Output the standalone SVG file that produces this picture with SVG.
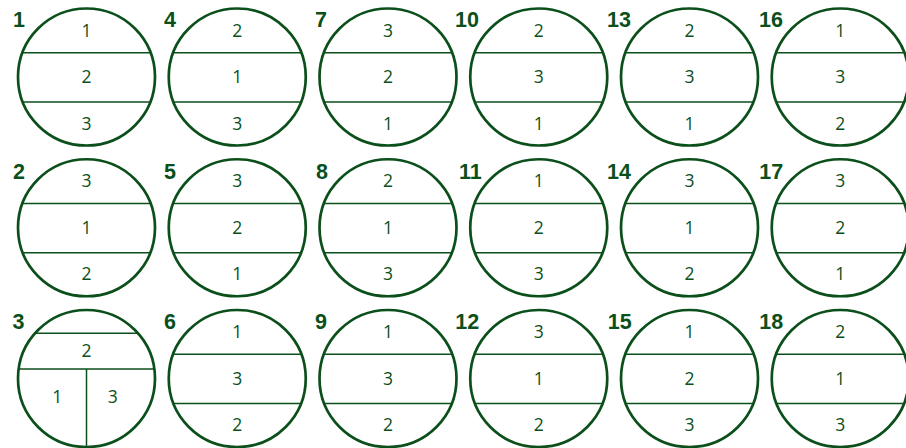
<svg xmlns="http://www.w3.org/2000/svg" width="906" height="448" viewBox="0 0 906 448">
<style>
.c{fill:none;stroke:#0b4f1b;stroke-width:2.7}
.l{stroke:#0b4f1b;stroke-width:1.5}
.t{font-family:"Open Sans","Noto Sans",sans-serif;font-weight:400;font-size:17.5px;fill:#0b4f1b;text-anchor:middle}
.n{font-family:"Liberation Sans",Arial,sans-serif;font-weight:bold;font-size:21.5px;fill:#0b4f1b;text-anchor:end}
</style>
<defs>
<g id="ring"><circle class="c" r="68.5"/><line class="l" x1="-64" y1="-24.2" x2="64" y2="-24.2"/><line class="l" x1="-64" y1="25" x2="64" y2="25"/></g>
</defs>
<rect width="906" height="448" fill="#fff"/>
<!-- Row 1 -->
<g id="n1" transform="translate(86.5,77)"><use href="#ring"/><text class="n" x="-61.5" y="-50">1</text><text class="t" y="-40.5">1</text><text class="t" y="6">2</text><text class="t" y="52.5">3</text></g>
<g id="n4" transform="translate(237.25,77)"><use href="#ring"/><text class="n" x="-61.25" y="-50">4</text><text class="t" y="-40.5">2</text><text class="t" y="6">1</text><text class="t" y="52.5">3</text></g>
<g id="n7" transform="translate(388,77)"><use href="#ring"/><text class="n" x="-61" y="-50">7</text><text class="t" y="-40.5">3</text><text class="t" y="6">2</text><text class="t" y="52.5">1</text></g>
<g id="n10" transform="translate(538.75,77)"><use href="#ring"/><text class="n" x="-59.75" y="-50">10</text><text class="t" y="-40.5">2</text><text class="t" y="6">3</text><text class="t" y="52.5">1</text></g>
<g id="n13" transform="translate(689.5,77)"><use href="#ring"/><text class="n" x="-58.5" y="-50">13</text><text class="t" y="-40.5">2</text><text class="t" y="6">3</text><text class="t" y="52.5">1</text></g>
<g id="n16" transform="translate(840.25,77)"><use href="#ring"/><text class="n" x="-57.25" y="-50">16</text><text class="t" y="-40.5">1</text><text class="t" y="6">3</text><text class="t" y="52.5">2</text></g>
<!-- Row 2 -->
<g id="n2" transform="translate(86.5,227.75)"><use href="#ring"/><text class="n" x="-61.5" y="-49">2</text><text class="t" y="-40.5">3</text><text class="t" y="6">1</text><text class="t" y="52.5">2</text></g>
<g id="n5" transform="translate(237.25,227.75)"><use href="#ring"/><text class="n" x="-61.25" y="-49">5</text><text class="t" y="-40.5">3</text><text class="t" y="6">2</text><text class="t" y="52.5">1</text></g>
<g id="n8" transform="translate(388,227.75)"><use href="#ring"/><text class="n" x="-60" y="-49">8</text><text class="t" y="-40.5">2</text><text class="t" y="6">1</text><text class="t" y="52.5">3</text></g>
<g id="n11" transform="translate(538.75,227.75)"><use href="#ring"/><text class="n" x="-57" y="-49">11</text><text class="t" y="-40.5">1</text><text class="t" y="6">2</text><text class="t" y="52.5">3</text></g>
<g id="n14" transform="translate(689.5,227.75)"><use href="#ring"/><text class="n" x="-58.5" y="-49">14</text><text class="t" y="-40.5">3</text><text class="t" y="6">1</text><text class="t" y="52.5">2</text></g>
<g id="n17" transform="translate(840.25,227.75)"><use href="#ring"/><text class="n" x="-57" y="-49">17</text><text class="t" y="-40.5">3</text><text class="t" y="6">2</text><text class="t" y="52.5">1</text></g>
<!-- Row 3 -->
<g id="n3" transform="translate(86.5,378.5)"><circle class="c" r="68.5"/><line class="l" x1="-51.4" y1="-45.2" x2="51.4" y2="-45.2"/><line class="l" x1="-67.8" y1="-9.5" x2="67.8" y2="-9.5"/><line class="l" x1="0" y1="-9.5" x2="0" y2="68.5"/><text class="n" x="-62" y="-50">3</text><text class="t" y="-21.2">2</text><text class="t" x="-29.2" y="24.8">1</text><text class="t" x="26.2" y="24.8">3</text></g>
<g id="n6" transform="translate(237.25,378.5)"><use href="#ring"/><text class="n" x="-61.25" y="-50">6</text><text class="t" y="-40.5">1</text><text class="t" y="6">3</text><text class="t" y="52.5">2</text></g>
<g id="n9" transform="translate(388,378.5)"><use href="#ring"/><text class="n" x="-61" y="-50">9</text><text class="t" y="-40.5">1</text><text class="t" y="6">3</text><text class="t" y="52.5">2</text></g>
<g id="n12" transform="translate(538.75,378.5)"><use href="#ring"/><text class="n" x="-59.5" y="-50">12</text><text class="t" y="-40.5">3</text><text class="t" y="6">1</text><text class="t" y="52.5">2</text></g>
<g id="n15" transform="translate(689.5,378.5)"><use href="#ring"/><text class="n" x="-57.8" y="-50">15</text><text class="t" y="-40.5">1</text><text class="t" y="6">2</text><text class="t" y="52.5">3</text></g>
<g id="n18" transform="translate(840.25,378.5)"><use href="#ring"/><text class="n" x="-57" y="-50">18</text><text class="t" y="-40.5">2</text><text class="t" y="6">1</text><text class="t" y="52.5">3</text></g>
</svg>
